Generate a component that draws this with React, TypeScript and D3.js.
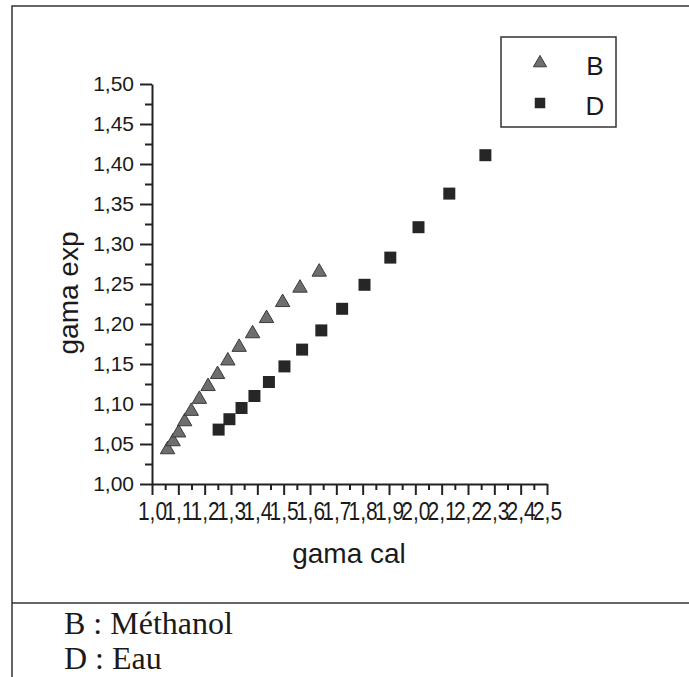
import { useRef, useEffect } from "react";
import * as d3 from "d3";

// B : Méthanol (triangles)
const bCal = [1.059, 1.08, 1.101, 1.124, 1.149, 1.18, 1.213, 1.249, 1.288, 1.331, 1.382, 1.435, 1.496, 1.562, 1.635];
const bExp = [1.043, 1.053, 1.064, 1.078, 1.091, 1.106, 1.122, 1.137, 1.154, 1.171, 1.188, 1.207, 1.227, 1.245, 1.265];

// D : Eau (squares)
const dCal = [1.253, 1.294, 1.34, 1.389, 1.444, 1.503, 1.57, 1.643, 1.722, 1.807, 1.905, 2.012, 2.129, 2.266];
const dExp = [1.068, 1.081, 1.095, 1.11, 1.1275, 1.147, 1.168, 1.192, 1.219, 1.249, 1.283, 1.321, 1.363, 1.411];

const xTicks = d3.range(0, 16).map((i) => 1 + i * 0.1);
const xMinor = d3.range(0, 15).map((i) => 1.05 + i * 0.1);
const yTicks = d3.range(0, 11).map((i) => 1 + i * 0.05);
const yMinor = d3.range(0, 10).map((i) => 1.025 + i * 0.05);

const legendItems = ["B", "D"];
const notes = ["B : Méthanol", "D : Eau"];

export default function App() {
  const ref = useRef<SVGSVGElement>(null);

  function init() {
    const settings = { width: 689, height: 677 };
    const x = d3.scaleLinear().domain([1, 2.5]).range([152, 547]);
    const y = d3.scaleLinear().domain([1, 1.5]).range([484, 84]);

    const svg = d3.select(ref.current);
    svg.selectAll("*").remove();
    svg
      .attr("width", settings.width)
      .attr("height", settings.height)
      .attr("font-family", "'Liberation Sans', Arial, sans-serif");

    svg.append("rect").attr("width", settings.width).attr("height", settings.height).attr("fill", "#fff");

    // page frame
    const frame = svg.append("g").attr("stroke", "#333").attr("stroke-width", 1.5).attr("fill", "none");
    frame.append("path").attr("d", "M12,677V6H689");
    frame.append("line").attr("x1", 12).attr("x2", 689).attr("y1", 603).attr("y2", 603);

    const comma = (f: string) => (d: number) => d3.format(f)(d).replace(".", ",");

    const xAxis = (g: any) =>
      g
        .attr("transform", `translate(0,${y(1)})`)
        .call(d3.axisBottom(x).tickValues(xTicks).tickSize(11).tickSizeOuter(0).tickFormat(comma(".1f") as any))
        .call((g: any) =>
          g
            .selectAll("text")
            .attr("y", 0)
            .attr("dy", 0)
            .attr("transform", "translate(0,36) scale(1,1.2)")
            .attr("font-size", 21)
            .attr("fill", "#1a1a1a")
        );
    const xAxisMinor = (g: any) =>
      g
        .attr("transform", `translate(0,${y(1)})`)
        .call(d3.axisBottom(x).tickValues(xMinor).tickSize(6).tickFormat(() => ""))
        .call((g: any) => g.select(".domain").remove());

    const yAxis = (g: any) =>
      g
        .attr("transform", `translate(${x(1)},0)`)
        .call(d3.axisLeft(y).tickValues(yTicks).tickSize(12).tickSizeOuter(0).tickFormat(comma(".2f") as any))
        .call((g: any) => g.selectAll("text").attr("x", -18).attr("font-size", 21).attr("fill", "#1a1a1a"));
    const yAxisMinor = (g: any) =>
      g
        .attr("transform", `translate(${x(1)},0)`)
        .call(d3.axisLeft(y).tickValues(yMinor).tickSize(7).tickFormat(() => ""))
        .call((g: any) => g.select(".domain").remove());

    [xAxis, xAxisMinor, yAxis, yAxisMinor].forEach((a) => {
      const g = svg.append("g").call(a);
      g.selectAll("line, path").attr("stroke", "#222").attr("stroke-width", 2);
    });

    svg
      .append("text")
      .attr("x", 349)
      .attr("y", 563)
      .attr("text-anchor", "middle")
      .attr("font-size", 28)
      .attr("fill", "#1a1a1a")
      .text("gama cal");
    svg
      .append("text")
      .attr("transform", "translate(78,293) rotate(-90)")
      .attr("text-anchor", "middle")
      .attr("font-size", 28)
      .attr("fill", "#1a1a1a")
      .text("gama exp");

    const tri = d3.symbol(d3.symbolTriangle, 90);
    const sq = d3.symbol(d3.symbolSquare, 144);

    svg
      .append("g")
      .selectAll("path")
      .data(bCal.map((c, i) => [c, bExp[i]]))
      .join("path")
      .attr("transform", (d) => `translate(${x(d[0])},${y(d[1])})`)
      .attr("d", tri)
      .attr("fill", "#6e6e6e")
      .attr("stroke", "#3a3a3a")
      .attr("stroke-width", 1);

    svg
      .append("g")
      .selectAll("path")
      .data(dCal.map((c, i) => [c, dExp[i]]))
      .join("path")
      .attr("transform", (d) => `translate(${x(d[0])},${y(d[1])})`)
      .attr("d", sq)
      .attr("fill", "#262626");

    // legend
    const legend = svg.append("g");
    legend
      .append("rect")
      .attr("x", 501)
      .attr("y", 37)
      .attr("width", 115)
      .attr("height", 90)
      .attr("fill", "#fff")
      .attr("stroke", "#333")
      .attr("stroke-width", 1.5);
    legendItems.forEach((k, i) => {
      const cy = 63 + i * 40;
      legend
        .append("path")
        .attr("transform", `translate(540,${cy})`)
        .attr("d", i === 0 ? d3.symbol(d3.symbolTriangle, 75) : d3.symbol(d3.symbolSquare, 110))
        .attr("fill", i === 0 ? "#6e6e6e" : "#262626")
        .attr("stroke", i === 0 ? "#3a3a3a" : "none");
      legend
        .append("text")
        .attr("x", 595)
        .attr("y", cy + 12)
        .attr("text-anchor", "middle")
        .attr("font-size", 26)
        .attr("fill", "#1a1a1a")
        .text(k);
    });

    svg
      .append("g")
      .attr("font-family", "'Liberation Serif', 'Times New Roman', serif")
      .attr("font-size", 32)
      .attr("fill", "#1a1a1a")
      .selectAll("text")
      .data(notes)
      .join("text")
      .attr("x", 64)
      .attr("y", (d, i) => 634 + i * 35)
      .text((d) => d);
  }

  useEffect(init, []);
  return (
    <div style={{ position: "absolute", left: 0, top: 0 }}>
      <svg ref={ref} style={{ display: "block" }}></svg>
    </div>
  );
}
